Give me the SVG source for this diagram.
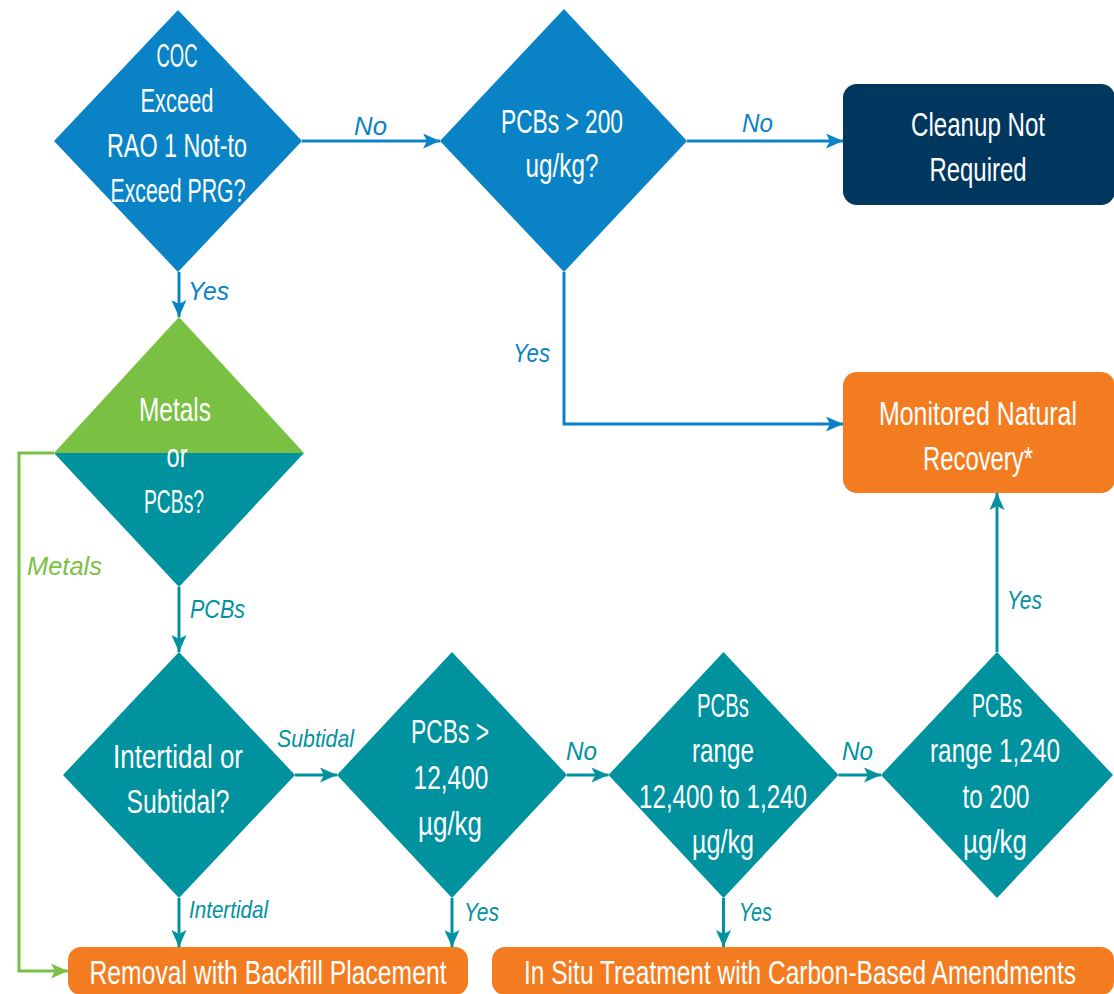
<svg xmlns="http://www.w3.org/2000/svg" width="1114" height="994" viewBox="0 0 1114 994">
<defs>
<style>
.t{font-family:"Liberation Sans Narrow","Liberation Sans",Arial,sans-serif;font-size:33px;fill:#ffffff;text-anchor:middle}
.l{font-family:"Liberation Sans Narrow","Liberation Sans",Arial,sans-serif;font-size:26px;font-style:italic;text-anchor:start}
.s{font-size:24px}
.blue{fill:#0a83c6}
.teal{fill:#00929f}
.green{fill:#7ac143}
.cb{fill:none;stroke:#0a83c6;stroke-width:3}
.ct{fill:none;stroke:#00929f;stroke-width:3}
.cg{fill:none;stroke:#7ac143;stroke-width:3}
</style>
<marker id="ab" markerUnits="userSpaceOnUse" markerWidth="17" markerHeight="15" refX="17" refY="7.5" orient="auto"><path d="M0,0 L17,7.5 L0,15 L4,7.5 z" fill="#0a83c6"/></marker>
<marker id="at" markerUnits="userSpaceOnUse" markerWidth="17" markerHeight="15" refX="17" refY="7.5" orient="auto"><path d="M0,0 L17,7.5 L0,15 L4,7.5 z" fill="#00929f"/></marker>
<marker id="ag" markerUnits="userSpaceOnUse" markerWidth="17" markerHeight="15" refX="17" refY="7.5" orient="auto"><path d="M0,0 L17,7.5 L0,15 L4,7.5 z" fill="#7ac143"/></marker>
</defs>
<rect width="1114" height="994" fill="#ffffff"/>

<g id="connectors">
<path class="cb" d="M302,141 H440" marker-end="url(#ab)"/>
<path class="cb" d="M687,141 H843" marker-end="url(#ab)"/>
<path class="cb" d="M179,272 V317" marker-end="url(#ab)"/>
<path class="cb" d="M564,272 V424 H843" marker-end="url(#ab)"/>
<path class="cg" d="M54,453 H19 V971 H68" marker-end="url(#ag)"/>
<path class="ct" d="M179,587 V652" marker-end="url(#at)"/>
<path class="ct" d="M295,775 H337" marker-end="url(#at)"/>
<path class="ct" d="M179,898 V947" marker-end="url(#at)"/>
<path class="ct" d="M452,898 V947" marker-end="url(#at)"/>
<path class="ct" d="M567,775 H608.5" marker-end="url(#at)"/>
<path class="ct" d="M838.5,775 H881" marker-end="url(#at)"/>
<path class="ct" d="M723.5,898 V947" marker-end="url(#at)"/>
<path class="ct" d="M997,652 V493" marker-end="url(#at)"/>
<text class="l blue" x="354" y="135" textLength="33" lengthAdjust="spacingAndGlyphs">No</text>
<text class="l blue" x="742" y="132" textLength="31" lengthAdjust="spacingAndGlyphs">No</text>
<text class="l blue" x="188" y="300" textLength="41" lengthAdjust="spacingAndGlyphs">Yes</text>
<text class="l blue" x="513" y="362" textLength="37" lengthAdjust="spacingAndGlyphs">Yes</text>
<text class="l green" x="27" y="575" textLength="75" lengthAdjust="spacingAndGlyphs">Metals</text>
<text class="l teal" x="190" y="618" textLength="55" lengthAdjust="spacingAndGlyphs">PCBs</text>
<text class="l s teal" x="277" y="747" textLength="77" lengthAdjust="spacingAndGlyphs">Subtidal</text>
<text class="l s teal" x="189" y="918" textLength="79" lengthAdjust="spacingAndGlyphs">Intertidal</text>
<text class="l teal" x="464" y="921" textLength="35" lengthAdjust="spacingAndGlyphs">Yes</text>
<text class="l teal" x="566" y="760" textLength="31" lengthAdjust="spacingAndGlyphs">No</text>
<text class="l teal" x="842" y="760" textLength="31" lengthAdjust="spacingAndGlyphs">No</text>
<text class="l teal" x="739" y="921" textLength="33" lengthAdjust="spacingAndGlyphs">Yes</text>
<text class="l teal" x="1007" y="609" textLength="35" lengthAdjust="spacingAndGlyphs">Yes</text>
</g>

<g id="d1">
<polygon points="178,10 302,141 178,272 54,141" fill="#0a83c6"/>
<text class="t" x="177" y="67" textLength="41" lengthAdjust="spacingAndGlyphs">COC</text>
<text class="t" x="177" y="112" textLength="73" lengthAdjust="spacingAndGlyphs">Exceed</text>
<text class="t" x="177" y="157" textLength="140" lengthAdjust="spacingAndGlyphs">RAO 1 Not-to</text>
<text class="t" x="178" y="202" textLength="135" lengthAdjust="spacingAndGlyphs">Exceed PRG?</text>
</g>

<g id="d2">
<polygon points="564,9 687,141 564,272 440,141" fill="#0a83c6"/>
<text class="t" x="562" y="133" textLength="122" lengthAdjust="spacingAndGlyphs">PCBs &gt; 200</text>
<text class="t" x="562" y="177" textLength="73" lengthAdjust="spacingAndGlyphs">ug/kg?</text>
</g>

<g id="cleanup">
<rect x="843" y="84" width="272" height="121" rx="14" fill="#00375f"/>
<text class="t" x="978" y="136" textLength="134" lengthAdjust="spacingAndGlyphs">Cleanup Not</text>
<text class="t" x="978" y="181" textLength="97" lengthAdjust="spacingAndGlyphs">Required</text>
</g>

<g id="mnr">
<rect x="843" y="372" width="272" height="121" rx="14" fill="#f47c20"/>
<text class="t" x="978" y="425" textLength="198" lengthAdjust="spacingAndGlyphs">Monitored Natural</text>
<text class="t" x="978" y="470" textLength="110" lengthAdjust="spacingAndGlyphs">Recovery*</text>
</g>

<g id="d3">
<polygon points="179,317 304,453 54,453" fill="#7ac143"/>
<polygon points="54,453 304,453 179,587" fill="#00929f"/>
<text class="t" x="175" y="421" textLength="72" lengthAdjust="spacingAndGlyphs">Metals</text>
<text class="t" x="177" y="467" textLength="21" lengthAdjust="spacingAndGlyphs">or</text>
<text class="t" x="174" y="513" textLength="60" lengthAdjust="spacingAndGlyphs">PCBs?</text>
</g>

<g id="d4">
<polygon points="179,652 295,775 179,898 63,775" fill="#00929f"/>
<text class="t" x="178" y="768" textLength="130" lengthAdjust="spacingAndGlyphs">Intertidal or</text>
<text class="t" x="178" y="813" textLength="103" lengthAdjust="spacingAndGlyphs">Subtidal?</text>
</g>

<g id="d5">
<polygon points="452,652 567,775 452,898 337,775" fill="#00929f"/>
<text class="t" x="450" y="743" textLength="78" lengthAdjust="spacingAndGlyphs">PCBs &gt;</text>
<text class="t" x="451" y="789" textLength="75" lengthAdjust="spacingAndGlyphs">12,400</text>
<text class="t" x="450" y="835" textLength="64" lengthAdjust="spacingAndGlyphs">µg/kg</text>
</g>

<g id="d6">
<polygon points="723.5,652 838.5,775 723.5,898 608.5,775" fill="#00929f"/>
<text class="t" x="723" y="717" textLength="52" lengthAdjust="spacingAndGlyphs">PCBs</text>
<text class="t" x="723" y="762" textLength="62" lengthAdjust="spacingAndGlyphs">range</text>
<text class="t" x="723" y="808" textLength="168" lengthAdjust="spacingAndGlyphs">12,400 to 1,240</text>
<text class="t" x="723" y="853" textLength="62" lengthAdjust="spacingAndGlyphs">µg/kg</text>
</g>

<g id="d7">
<polygon points="997,652 1113,775 997,898 881,775" fill="#00929f"/>
<text class="t" x="997" y="717" textLength="50" lengthAdjust="spacingAndGlyphs">PCBs</text>
<text class="t" x="995" y="762" textLength="130" lengthAdjust="spacingAndGlyphs">range 1,240</text>
<text class="t" x="996" y="808" textLength="67" lengthAdjust="spacingAndGlyphs">to 200</text>
<text class="t" x="995" y="853" textLength="64" lengthAdjust="spacingAndGlyphs">µg/kg</text>
</g>

<g id="removal">
<rect x="68" y="947" width="400" height="48" rx="13" fill="#f47c20"/>
<text class="t" x="268" y="984" textLength="357" lengthAdjust="spacingAndGlyphs">Removal with Backfill Placement</text>
</g>

<g id="insitu">
<rect x="492" y="947" width="622" height="48" rx="13" fill="#f47c20"/>
<text class="t" x="800" y="984" textLength="552" lengthAdjust="spacingAndGlyphs">In Situ Treatment with Carbon-Based Amendments</text>
</g>
</svg>
